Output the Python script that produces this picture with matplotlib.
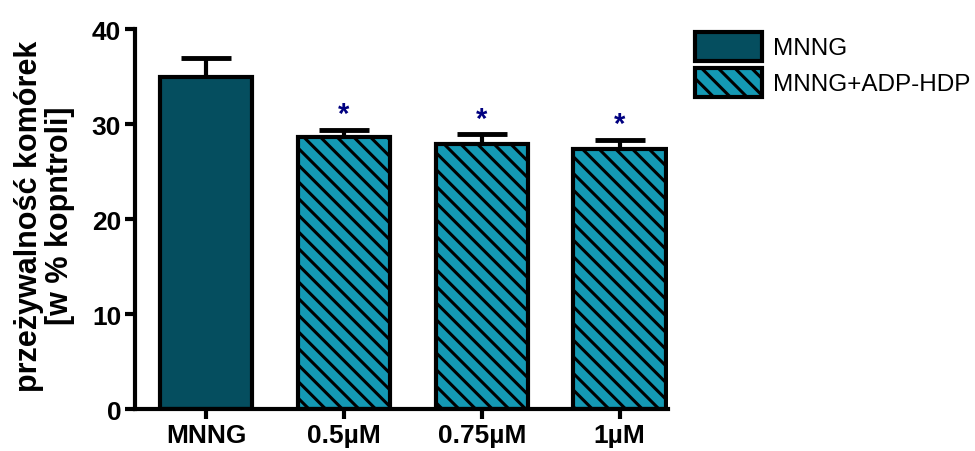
import numpy as np
import matplotlib.pyplot as plt
from matplotlib.patches import Patch

plt.rcParams['font.family'] = ['Liberation Sans', 'DejaVu Sans']
plt.rcParams['hatch.linewidth'] = 2.2
plt.rcParams['hatch.color'] = 'black'

# dane
kategorie = ['MNNG', '0.5µM', '0.75µM', '1µM']
srednie = [34.9, 28.6, 27.9, 27.4]
bledy = [2.1, 0.8, 1.0, 0.9]
gwiazdki = ['', '*', '*', '*']
serie = ['MNNG', 'MNNG+ADP-HDP', 'MNNG+ADP-HDP', 'MNNG+ADP-HDP']

kolor_mnng = '#054e5f'
kolor_adp = '#1499b4'

fig = plt.figure(figsize=(9.75, 4.52), dpi=100)
ax = fig.add_axes([0.1385, 0.0929, 0.5465, 0.8407])

x = np.arange(len(kategorie))
for i in range(len(kategorie)):
    if serie[i] == 'MNNG':
        ax.bar(x[i], srednie[i], width=0.67, color=kolor_mnng, edgecolor='black',
               linewidth=3, zorder=2)
    else:
        ax.bar(x[i], srednie[i], width=0.67, color=kolor_adp, edgecolor='black',
               linewidth=3, hatch='\\\\', zorder=2)
    ax.errorbar(x[i], srednie[i], yerr=[[0], [bledy[i]]], fmt='none', ecolor='black',
                elinewidth=3, capsize=18, capthick=3.5, zorder=1)
    if gwiazdki[i]:
        ax.text(x[i], srednie[i] + bledy[i] + 0.2, gwiazdki[i], ha='center', va='bottom',
                color='#000080', fontsize=21, fontweight='bold')

ax.set_xlim(-0.515, 3.35)
ax.set_ylim(0, 40)
ax.set_yticks([0, 10, 20, 30, 40])
ax.set_xticks(x)
ax.set_xticklabels(kategorie)
for s in ['top', 'right']:
    ax.spines[s].set_visible(False)
for s in ['left', 'bottom']:
    ax.spines[s].set_linewidth(3)
ax.tick_params(width=3, length=7, labelsize=19, pad=3)
for lab in ax.get_xticklabels() + ax.get_yticklabels():
    lab.set_fontweight('bold')

ax.set_ylabel('przeżywalność komórek\n[w % kopntroli]', fontsize=22, fontweight='bold',
              linespacing=1.05)
ax.yaxis.set_label_coords(-0.112, 0.51)

uchwyty = [Patch(facecolor=kolor_mnng, edgecolor='black', linewidth=3),
           Patch(facecolor=kolor_adp, edgecolor='black', linewidth=3, hatch='\\\\')]
fig.legend(uchwyty, ['MNNG', 'MNNG+ADP-HDP'], loc='upper left',
           bbox_to_anchor=(0.6954, 0.965), frameon=False, fontsize=17.5,
           handlelength=2.75, handleheight=1.45, handletextpad=0.45, labelspacing=0.3,
           borderpad=0.2)

fig.savefig('out.png', dpi=100)
